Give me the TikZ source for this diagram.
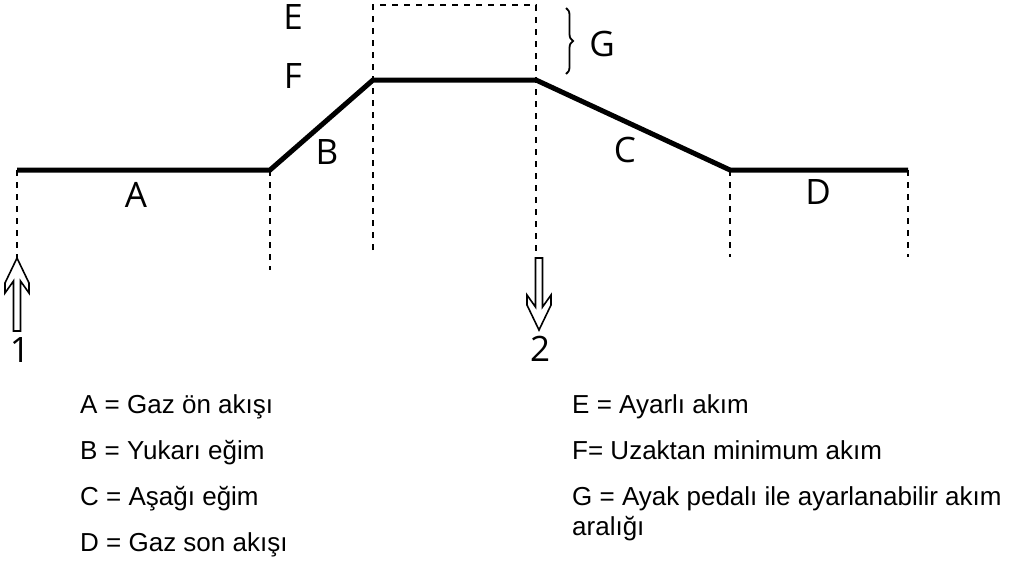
\documentclass[tikz,border=0pt]{standalone}
\usepackage{fontspec}
\setmainfont{Liberation Sans}
\newfontfamily\lblfont{Open Sans}
\usetikzlibrary{decorations.pathreplacing}
\tikzset{
  profile/.style={line width=5pt, line join=miter},
  guide/.style={line width=2.4pt, dash pattern=on 6pt off 6pt},
  lbl/.style={font=\lblfont\fontsize{35}{40}\selectfont, inner sep=0pt},
  legend/.style={font=\fontsize{26}{30}\selectfont, anchor=base west, inner sep=0pt, align=left},
  hollow/.style={line width=1.6pt, line join=miter}
}
\begin{document}
\begin{tikzpicture}[x=1pt,y=-1pt]
\useasboundingbox (0,0) rectangle (1019,563);
% profile corners
\coordinate (p0) at (17,170);
\coordinate (p1) at (270,170);
\coordinate (p2) at (373,80);
\coordinate (p3) at (536,80);
\coordinate (p4) at (730,170);
\coordinate (p5) at (908,170);
% guide ends
\coordinate (g0) at (17,258);
\coordinate (g1) at (270,270);
\coordinate (g2) at (373,250);
\coordinate (g3) at (536,252);
\coordinate (g4) at (730,257);
\coordinate (g5) at (908,257);
\coordinate (t2) at (373,5);
\coordinate (t3) at (536,5);
% dashed guides
\draw[guide] (p0) -- (g0);
\draw[guide] (p1) -- (g1);
\draw[guide] (g2) -- (t2) -- (t3) -- (g3);
\draw[guide] (p4) -- (g4);
\draw[guide] (p5) -- (g5);
% profile
\draw[profile] (p0) -- (p1) -- (p2) -- (p3) -- (p4) -- (p5);
% brace
\coordinate (b1) at (566,8);
\coordinate (b2) at (566,74);
\draw[line width=1.8pt, decorate, decoration={brace, amplitude=7pt}] (b1) -- (b2);
% labels
\node[lbl] (lE) at (293,17) {E};
\node[lbl] (lF) at (293,76) {F};
\node[lbl] (lG) at (602,44) {G};
\node[lbl] (lA) at (136,195) {A};
\node[lbl] (lB) at (327,152) {B};
\node[lbl] (lC) at (625,150) {C};
\node[lbl] (lD) at (818,192) {D};
% start arrow
\draw[hollow] (17,258) -- (29,283) -- (29,293) -- (20.5,281) -- (20.5,331) -- (13.5,331) -- (13.5,281) -- (5,293) -- (5,283) -- cycle;
\node[lbl] (n1) at (20,350) {1};
% stop arrow
\draw[hollow] (539,330) -- (551,305) -- (551,295) -- (542.5,307) -- (542.5,258) -- (535.5,258) -- (535.5,307) -- (527,295) -- (527,305) -- cycle;
\node[lbl] (n2) at (540,349) {2};
% legend
\node[legend] (la) at (80,413) {A = Gaz ön akışı};
\node[legend] (lb) at (80,459) {B = Yukarı eğim};
\node[legend] (lc) at (80,505) {C = Aşağı eğim};
\node[legend] (ld) at (80,551) {D = Gaz son akışı};
\node[legend] (le) at (572,413) {E = Ayarlı akım};
\node[legend] (lf) at (572,459) {F= Uzaktan minimum akım};
\node[legend] (lg) at (572,505) {G = Ayak pedalı ile ayarlanabilir akım};
\node[legend] (lh) at (572,535) {aralığı};
\end{tikzpicture}
\end{document}
